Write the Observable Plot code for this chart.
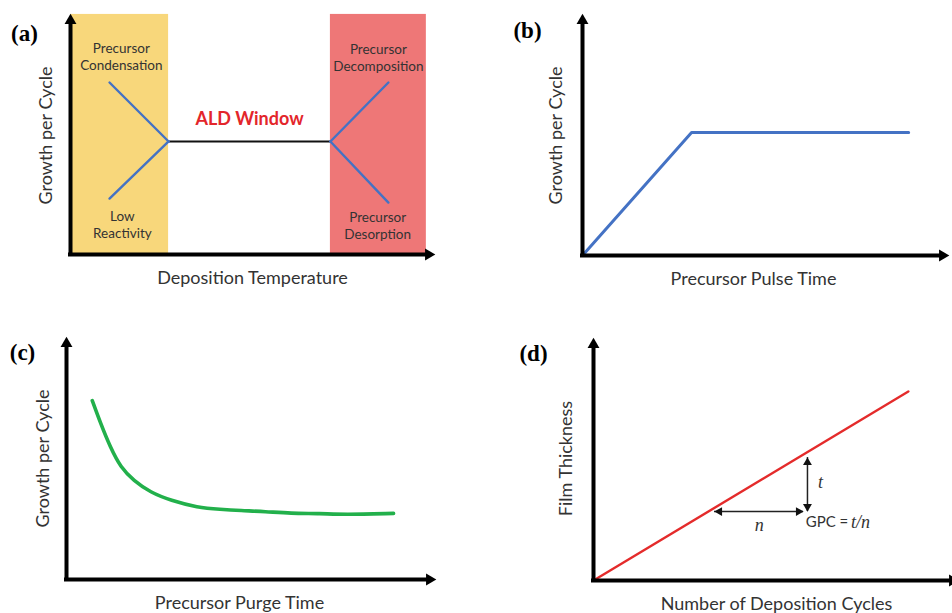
<!DOCTYPE html>
<html><head><meta charset="utf-8">
<script src="https://cdn.jsdelivr.net/npm/d3@7"></script>
<script src="https://cdn.jsdelivr.net/npm/@observablehq/plot@0.6"></script>
<style>
body{margin:0;background:#fff;}
#fig{position:relative;width:952px;height:613px;overflow:hidden;background:#fff;}
.panel{position:absolute;}
</style></head><body><div id="fig"></div>
<script>
// ---------- Panel (a): GPC vs deposition temperature ----------
const tempRegions = [
  {region: "low", x1: 0, x2: 2.74},
  {region: "high", x1: 7.26, x2: 9.94}
];
const regionTop = 10.26;
const aldWindow = [{x: 2.74, y: 4.83}, {x: 7.26, y: 4.83}];
const gpcBranches = [
  {branch: "condensation", x: 1.09, y: 7.35}, {branch: "condensation", x: 2.74, y: 4.83},
  {branch: "lowReactivity", x: 1.09, y: 2.39}, {branch: "lowReactivity", x: 2.74, y: 4.83},
  {branch: "decomposition", x: 7.26, y: 4.83}, {branch: "decomposition", x: 8.88, y: 7.35},
  {branch: "desorption", x: 7.26, y: 4.83}, {branch: "desorption", x: 8.88, y: 2.22}
];
const regionLabels = [
  {text: "Precursor\nCondensation", x: 1.42, y: 8.48},
  {text: "Low\nReactivity", x: 1.45, y: 1.30},
  {text: "Precursor\nDecomposition", x: 8.60, y: 8.44},
  {text: "Precursor\nDesorption", x: 8.58, y: 1.26}
];
const windowLabel = [{text: "ALD Window", x: 5.0, y: 5.77}];

// ---------- Panel (b): GPC vs precursor pulse time ----------
const pulseTime = [0, 3.03, 9.06];
const pulseGPC = [0, 5.23, 5.23];

// ---------- Panel (c): GPC vs precursor purge time ----------
const purgeTime = [0.71, 0.94, 1.21, 1.49, 1.85, 2.31, 2.87, 3.61, 4.24, 4.79, 5.48, 6.17, 7.00, 7.63, 9.01];
const purgeGPC  = [7.58, 6.61, 5.59, 4.75, 4.19, 3.69, 3.35, 3.05, 2.97, 2.92, 2.88, 2.80, 2.80, 2.75, 2.80];

// ---------- Panel (d): film thickness vs number of cycles ----------
const cycles = [0, 8.77];
const thickness = [0, 8.01];
const gpcVertical = [{x: 5.96, y1: 2.92, y2: 5.21}];
const gpcHorizontal = [{y: 2.92, x1: 3.37, x2: 5.85}];
const gpcLabels = [
  {text: "t", x: 6.32, y: 4.15},
  {text: "n", x: 4.62, y: 2.33}
];
const gpcFormula = [{left: "GPC =", right: "t/n", x1: 5.91, x2: 7.17, y: 2.46}];

// ---------- helpers ----------
const SANS = "Lato, 'Open Sans', sans-serif";
const SERIF = "'Liberation Serif', 'DejaVu Serif', serif";
const TEXT = "#333";

function axesMarks() {
  return [
    Plot.ruleY([0], {x1: 0, x2: 10, stroke: "#000", strokeWidth: 4, strokeLinecap: "square"}),
    Plot.ruleX([0], {y1: 0, y2: 10, stroke: "#000", strokeWidth: 4, strokeLinecap: "square"}),
    Plot.dot([{x: 10, y: 0}], {x: "x", y: "y", symbol: "triangle", r: 4.4, rotate: 90, fill: "#000"}),
    Plot.dot([{x: 0, y: 10}], {x: "x", y: "y", symbol: "triangle", r: 4.4, rotate: 0, fill: "#000"})
  ];
}
function titles(xTitle, xdx, ydxTitle, yTitle, ydx, ydy, letter, ldx, ldy) {
  return [
    Plot.text([xTitle], {frameAnchor: "bottom", textAnchor: "middle", lineAnchor: "middle",
      dx: xdx, dy: 24, fontSize: 18, fill: TEXT}),
    Plot.text([yTitle], {frameAnchor: "left", textAnchor: "middle", lineAnchor: "middle",
      rotate: -90, dx: ydx, dy: ydy, fontSize: 18, fill: TEXT}),
    Plot.text([letter], {frameAnchor: "top-left", textAnchor: "middle", lineAnchor: "middle",
      dx: ldx, dy: ldy, fontFamily: SERIF, fontWeight: "bold", fontSize: 23, fill: "#000"})
  ];
}
function panel(left, top, opts, marks) {
  const chart = Plot.plot({
    width: 476, height: opts.height,
    marginLeft: opts.ml, marginRight: opts.mr, marginTop: opts.mt, marginBottom: opts.mb,
    x: {domain: [0, 10], axis: null},
    y: {domain: [0, 10], axis: null},
    style: {fontFamily: SANS, fontSize: "16px", background: "transparent", overflow: "visible"},
    marks
  });
  chart.classList.add("panel");
  chart.style.left = left + "px";
  chart.style.top = top + "px";
  document.getElementById("fig").appendChild(chart);
}

// (a)
panel(0, 0, {height: 300, ml: 70, mr: 48, mt: 20, mb: 46}, [
  Plot.rect(tempRegions, {x1: "x1", x2: "x2", y1: 0, y2: regionTop,
    fill: d => d.region === "low" ? "#F8D77B" : "#EE7777"}),
  Plot.line(aldWindow, {x: "x", y: "y", stroke: "#111", strokeWidth: 2.2}),
  Plot.line(gpcBranches, {x: "x", y: "y", z: "branch", stroke: "#4472C4", strokeWidth: 2.4}),
  Plot.text(regionLabels, {x: "x", y: "y", text: "text", fontSize: 13.5, lineHeight: 1.27, fill: TEXT}),
  Plot.text(windowLabel, {x: "x", y: "y", text: "text", fontSize: 18, fontWeight: "bold", fill: "#E3262B"}),
  ...axesMarks(),
  ...titles("Deposition Temperature", 3, 0, "Growth per Cycle", -24, -2, "(a)", -46, 13)
]);

// (b)
panel(476, 0, {height: 300, ml: 106, mr: 10, mt: 20, mb: 45}, [
  Plot.line(pulseTime.map((t, i) => ({t, g: pulseGPC[i]})), {x: "t", y: "g", stroke: "#4472C4", strokeWidth: 3}),
  ...axesMarks(),
  ...titles("Precursor Pulse Time", -9, 0, "Growth per Cycle", -26, -2.5, "(b)", -55, 10)
]);

// (c)
panel(0, 300, {height: 313, ml: 66, mr: 47, mt: 43, mb: 34}, [
  Plot.line(purgeTime.map((t, i) => ({t, g: purgeGPC[i]})), {x: "t", y: "g", curve: "basis",
    stroke: "#22B04B", strokeWidth: 3.6, strokeLinecap: "round"}),
  ...axesMarks(),
  ...titles("Precursor Purge Time", -8.5, 0, "Growth per Cycle", -23, -3, "(c)", -44, 9)
]);

// (d)
panel(476, 300, {height: 313, ml: 117, mr: 0, mt: 44, mb: 33}, [
  Plot.line(cycles.map((c, i) => ({c, h: thickness[i]})), {x: "c", y: "h", stroke: "#E42B2B", strokeWidth: 2.4}),
  Plot.ruleX(gpcVertical, {x: "x", y1: "y1", y2: "y2", stroke: "#222", strokeWidth: 1.5}),
  Plot.dot(gpcVertical, {x: "x", y: "y2", dy: 5, symbol: "triangle", r: 3.3, rotate: 0, fill: "#111"}),
  Plot.dot(gpcVertical, {x: "x", y: "y1", dy: -5, symbol: "triangle", r: 3.3, rotate: 180, fill: "#111"}),
  Plot.ruleY(gpcHorizontal, {y: "y", x1: "x1", x2: "x2", stroke: "#222", strokeWidth: 1.5}),
  Plot.dot(gpcHorizontal, {x: "x1", y: "y", dx: 5, symbol: "triangle", r: 3.3, rotate: -90, fill: "#111"}),
  Plot.dot(gpcHorizontal, {x: "x2", y: "y", dx: -5, symbol: "triangle", r: 3.3, rotate: 90, fill: "#111"}),
  Plot.text(gpcLabels, {x: "x", y: "y", text: "text", fontFamily: SERIF, fontStyle: "italic", fontSize: 18, fill: TEXT}),
  Plot.text(gpcFormula, {x: "x1", y: "y", text: "left", textAnchor: "start", fontSize: 15, fill: TEXT}),
  Plot.text(gpcFormula, {x: "x2", y: "y", text: "right", textAnchor: "start", fontFamily: SERIF, fontStyle: "italic", fontSize: 18, fill: TEXT}),
  ...axesMarks(),
  ...titles("Number of Deposition Cycles", 3.5, 0, "Film Thickness", -27, -4, "(d)", -60, 9)
]);
</script>
</body></html>
